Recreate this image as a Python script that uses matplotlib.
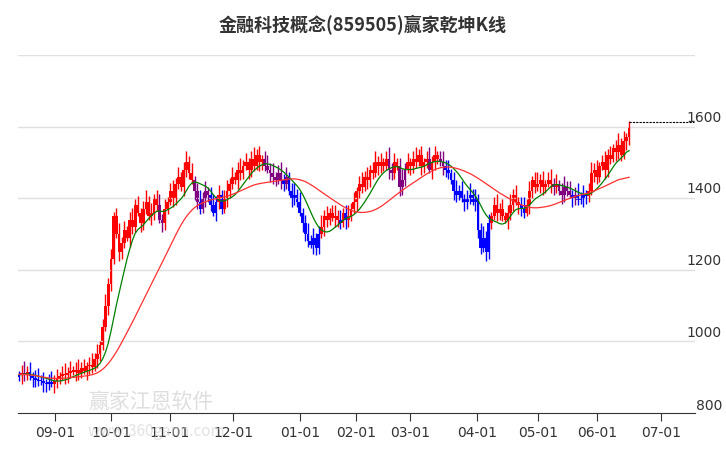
import matplotlib
matplotlib.use("Agg")
import matplotlib.pyplot as plt
import numpy as np
import pandas as pd

plt.rcParams['font.family'] = ['Noto Sans CJK SC', 'DejaVu Sans']

title = "金融科技概念(859505)赢家乾坤K线"
closes = [905,912,908,915,903,898,893,890,888,884,880,886,882,890,895,
 902,908,905,912,918,915,920,912,925,918,930,935,928,
 950,965,990,1040,1100,1160,
 1230,1350,1300,1250,1275,
 1310,1290,1340,1320,1380,1360,1330,1370,1390,1350,1360,1400,1380,1340,1330,1370,1390,
 1420,1400,1440,1460,1430,1480,1500,1470,1450,
 1420,1390,1370,1400,1420,1410,1380,1360,1390,1410,1370,1400,1420,
 1440,1460,1450,1480,1470,1490,1500,1480,1510,1490,1520,1500,1510,1490,1480,
 1470,1460,1450,1470,1450,1440,1460,
 1420,1400,1410,1390,1360,1330,1300,1280,1270,1290,1260,
 1300,1320,1350,1340,1360,1345,
 1350,1340,1330,1360,1340,1350,1370,1390,
 1420,1440,1430,1460,1450,1480,1470,1500,1490,
 1500,1490,1510,1480,1470,1500,1490,1430,1450,1480,1500,
 1490,1510,1500,1520,1490,1500,1510,1480,1500,1520,1510,1500,1490,1480,1470,
 1450,1420,1410,1420,1400,1390,1400,1410,1390,1400,
 1310,1260,1290,1250,
 1330,1350,1380,1360,1370,1350,1340,1360,
 1380,1410,1390,1380,1370,1360,1380,
 1420,1450,1430,1440,1450,1430,1440,1450,1440,1430,1440,
 1420,1410,1430,1420,1410,1400,1410,1395,1400,1410,1405,
 1420,1470,1480,1460,
 1490,1500,1480,1520,1510,1540,1530,1550,1520,1560,1570,1595]
month_labels = ["09-01","10-01","11-01","12-01","01-01","02-01","03-01","04-01","05-01","06-01","07-01"]
month_pos = [13.3,34.1,55.9,79.3,104.1,124.8,144.8,169.6,192.2,214.1,237.8]
yticks = [800,1000,1200,1400,1600]

c = np.array(closes, float)
o = np.r_[c[0]-5, c[:-1]]
x = np.arange(len(c))
ma_s = pd.Series(c).rolling(10, min_periods=1).mean().rolling(3, min_periods=1, center=True).mean()
ma_l = pd.Series(c).rolling(30, min_periods=1).mean().rolling(9, min_periods=1, center=True).mean()

fig = plt.figure(figsize=(7.26, 4.5), dpi=100)
ax = fig.add_axes([18/726, 1-413/450, (695-18)/726, (413-55)/450])
for i in range(len(c)):
    if c[i] >= ma_s[i]:
        col = '#ff0000'
    elif c[i] < ma_l[i]:
        col = '#0000ff'
    else:
        col = '#800080'
    hi = max(o[i], c[i]) + 12 + (i*7 % 5)*5
    lo = min(o[i], c[i]) - 10 - (i*3 % 4)*5
    ax.vlines(x[i], lo, hi, color=col, lw=1)
    b0, b1 = sorted([o[i], c[i]])
    if b1 - b0 < 4: b1 = b0 + 4
    ax.add_patch(plt.Rectangle((x[i]-0.5, b0), 1.0, b1-b0, color=col, lw=0))
ax.plot(x, ma_s, color='green', lw=0.9)
ax.plot(x, ma_l, color='#ff3030', lw=0.9)
ax.plot([x[-1], 250], [1614, 1614], color='black', lw=0.8, ls=(0, (2, 1)))

ax.set_xlim(-0.4, 250.4)
ax.set_ylim(800, 1800)
ax.set_yticks([1000,1200,1400,1600,1800])
ax.set_yticklabels([])
for v in yticks:
    ax.text(722/726, (1-413/450) + (v-800)/1000*(358/450) + (0.004 if v > 800 else 0), str(v),
            transform=fig.transFigure, ha='right', va='bottom', fontsize=10, color='#333333',
            family='DejaVu Sans')
ax.tick_params(axis='y', length=0)
ax.grid(axis='y', color='#e0e0e0', lw=1)
for s in ['top', 'right', 'left']:
    ax.spines[s].set_visible(False)
ax.spines['bottom'].set_color('#333333')
ax.set_xticks(month_pos)
ax.set_xticklabels(month_labels, fontsize=10, color='#333333', family='DejaVu Sans')
ax.tick_params(axis='x', length=6, direction='out', color='#333333')
fig.text(0.5, 0.945, title, ha='center', va='center', fontsize=13, fontweight='bold', color='#333333')
fig.text(88/726, 1-402/450, "赢家江恩软件", fontsize=15, color='#d0d0d0', alpha=0.7, va='center', zorder=0)
fig.text(88/726, 1-432/450, "www.360gann.com", fontsize=11, color='#d0d0d0', alpha=0.6, va='center', zorder=0)
fig.savefig("out.png", dpi=100)
